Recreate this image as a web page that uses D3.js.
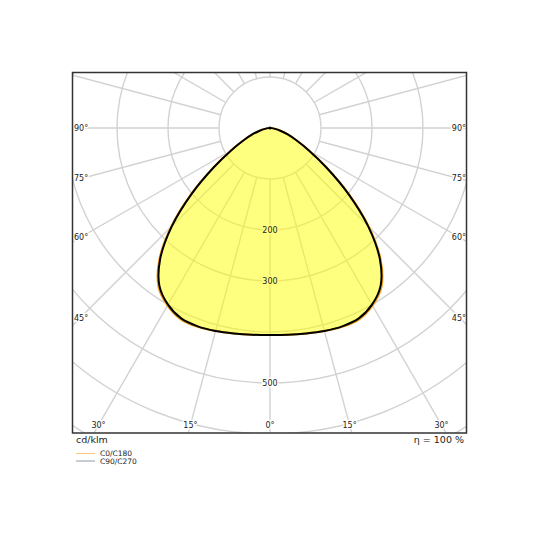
<!DOCTYPE html>
<html>
<head>
<meta charset="utf-8">
<script src="https://cdn.jsdelivr.net/npm/d3@7"></script>
<style>
  body { margin: 0; background: #fff; }
  svg { display: block; font-family: "DejaVu Sans", sans-serif; }
</style>
</head>
<body>
<div id="chart"></div>
<script>
// gamma angles (deg from nadir) and intensities in cd/klm
const gammaAngles = [0, 5, 10, 15, 20, 25, 30, 35, 40, 45, 50, 55, 60, 65, 70, 75, 80, 85, 90];
const c0c180 = [406, 407, 409, 412, 415, 414, 402, 381, 338, 275, 203, 137, 89, 58, 37, 21, 10, 3, 0];
const c90c270 = [406, 407, 409, 412, 414, 412, 400, 378, 335, 272, 200, 135, 88, 57, 37, 21, 10, 3, 0];

const ringValues = [100, 200, 300, 400, 500, 600, 700, 800];
const ringLabels = [200, 300, 500];
const spokeAngles = d3.range(0, 360, 15);
const sideLabelAngles = [45, 60, 75, 90];
const bottomLabelAngles = [0, 15, 30];

const seriesNames = ["C0/C180", "C90/C270"];

const width = 540, height = 540;
const cx = 270, cy = 128;
const box = { x: 72.5, y: 72.5, w: 394, h: 360.5 };

const r = d3.scaleLinear().domain([0, 100]).range([0, 51]);

const svg = d3.select("#chart").append("svg")
    .attr("width", width)
    .attr("height", height);

svg.append("defs").append("clipPath").attr("id", "clip")
    .append("rect")
    .attr("x", box.x).attr("y", box.y)
    .attr("width", box.w).attr("height", box.h);

const plot = svg.append("g").attr("clip-path", "url(#clip)");
const g = plot.append("g").attr("transform", `translate(${cx},${cy})`);

// grid rings
g.selectAll("circle.ring")
    .data(ringValues)
    .enter().append("circle")
    .attr("class", "ring")
    .attr("r", d => r(d))
    .attr("fill", "none")
    .attr("stroke", "#d2d2d2")
    .attr("stroke-width", 1.4);

// spokes, starting at the first ring
g.selectAll("line.spoke")
    .data(spokeAngles)
    .enter().append("line")
    .attr("class", "spoke")
    .attr("x1", d => r(100) * Math.sin(d * Math.PI / 180))
    .attr("y1", d => r(100) * Math.cos(d * Math.PI / 180))
    .attr("x2", d => r(1000) * Math.sin(d * Math.PI / 180))
    .attr("y2", d => r(1000) * Math.cos(d * Math.PI / 180))
    .attr("stroke", "#d2d2d2")
    .attr("stroke-width", 1.4);

// full curve -90..90 (mirror the half plane)
function fullCurve(values) {
    const pts = [];
    for (let i = gammaAngles.length - 1; i > 0; i--) pts.push([-gammaAngles[i], values[i]]);
    for (let i = 0; i < gammaAngles.length; i++) pts.push([gammaAngles[i], values[i]]);
    return pts;
}

const radial = d3.lineRadial()
    .angle(d => Math.PI - d[0] * Math.PI / 180)
    .radius(d => r(d[1]))
    .curve(d3.curveCatmullRom);

g.append("path")
    .attr("d", radial(fullCurve(c0c180)) + "Z")
    .attr("fill", "#ffff00")
    .attr("fill-opacity", 0.5)
    .attr("stroke", "none");

g.append("path")
    .attr("d", radial(fullCurve(c0c180)))
    .attr("fill", "none")
    .attr("stroke", "#f5a01a")
    .attr("stroke-width", 2);

g.append("path")
    .attr("d", radial(fullCurve(c90c270)))
    .attr("fill", "none")
    .attr("stroke", "#000")
    .attr("stroke-width", 2)
    .attr("stroke-linejoin", "round");

// end point marker at the apex (value at 90°)
g.append("circle")
    .attr("cx", 0)
    .attr("cy", -r(c90c270[c90c270.length - 1]))
    .attr("r", 1.6)
    .attr("fill", "#000");

// labels with halo
function haloText(sel) {
    return sel.attr("font-size", 8)
        .attr("fill", "#222")
        .attr("stroke-width", 3)
        .attr("paint-order", "stroke")
        .attr("stroke-linejoin", "round")
        .attr("dominant-baseline", "central");
}

haloText(g.selectAll("text.ringlabel")
    .data(ringLabels)
    .enter().append("text")
    .attr("class", "ringlabel")
    .attr("x", 0)
    .attr("y", d => r(d))
    .attr("text-anchor", "middle")
    .attr("stroke", d => d < c90c270[0] ? "#ffff80" : "#fff")
    .text(d => d));

const sideOff = 190, bottomOff = 297;
const sideData = [];
sideLabelAngles.forEach(a => { sideData.push({ a, s: -1 }); sideData.push({ a, s: 1 }); });
haloText(g.selectAll("text.side")
    .data(sideData)
    .enter().append("text")
    .attr("class", "side")
    .attr("x", d => d.s < 0 ? -196 : 196)
    .attr("y", d => d.a === 90 ? 0 : sideOff / Math.tan(d.a * Math.PI / 180))
    .attr("text-anchor", d => d.s < 0 ? "start" : "end")
    .attr("stroke", "#fff")
    .text(d => d.a + "°"));

const bottomData = [];
bottomLabelAngles.forEach(a => {
    if (a === 0) bottomData.push({ a, s: 0 });
    else { bottomData.push({ a, s: -1 }); bottomData.push({ a, s: 1 }); }
});
haloText(g.selectAll("text.bottom")
    .data(bottomData)
    .enter().append("text")
    .attr("class", "bottom")
    .attr("x", d => d.s * bottomOff * Math.tan(d.a * Math.PI / 180))
    .attr("y", bottomOff)
    .attr("text-anchor", "middle")
    .attr("stroke", "#fff")
    .text(d => d.a + "°"));

// frame
svg.append("rect")
    .attr("x", box.x).attr("y", box.y)
    .attr("width", box.w).attr("height", box.h)
    .attr("fill", "none")
    .attr("stroke", "#333")
    .attr("stroke-width", 1.5);

svg.append("text")
    .attr("x", 76).attr("y", 443)
    .attr("font-size", 9.5).attr("fill", "#222")
    .text("cd/klm");

svg.append("text")
    .attr("x", 464).attr("y", 443)
    .attr("text-anchor", "end")
    .attr("font-size", 9.5).attr("fill", "#222")
    .text("η = 100 %");

// legend
const legendColors = ["#fbc77a", "#8d99a4"];
const legend = svg.selectAll("g.legend")
    .data(seriesNames)
    .enter().append("g")
    .attr("class", "legend")
    .attr("transform", (d, i) => `translate(76,${453.5 + i * 7.5})`);

legend.append("line")
    .attr("x1", 0).attr("x2", 19)
    .attr("y1", 0).attr("y2", 0)
    .attr("stroke", (d, i) => legendColors[i])
    .attr("stroke-width", 1);

legend.append("text")
    .attr("x", 24).attr("y", 0)
    .attr("dominant-baseline", "central")
    .attr("font-size", 7.5).attr("fill", "#222")
    .text(d => d);
</script>
</body>
</html>
